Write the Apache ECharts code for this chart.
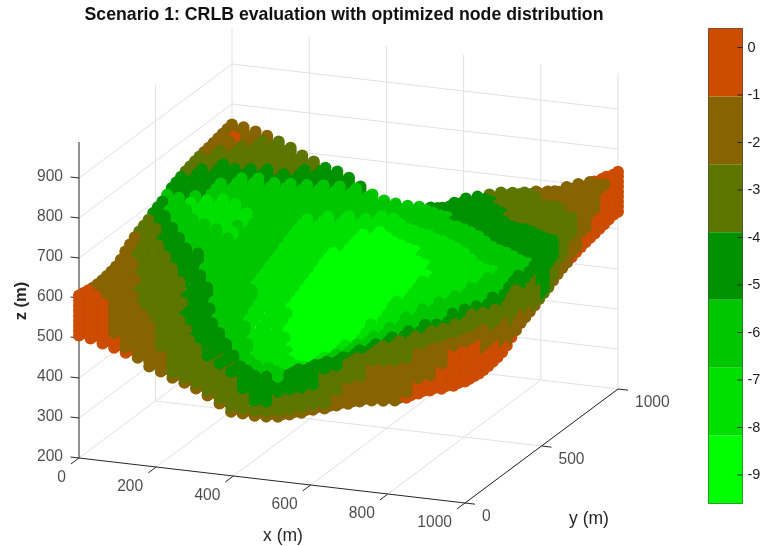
<!DOCTYPE html>
<html><head><meta charset="utf-8">
<style>html,body{margin:0;padding:0;background:#fff}#c{width:760px;height:546px}</style>
<script src="https://cdn.jsdelivr.net/npm/echarts@6/dist/echarts.min.js"></script>
</head><body><div id="c"></div>
<script>
const xValues=[0,30,61,91,121,152,182,212,242,273,303,333,364,394,424,455,485,515,545,576,606,636,667,697,727,758,788,818,848,879,909,939,970,1000];
const yValues=[0,30,61,91,121,152,182,212,242,273,303,333,364,394,424,455,485,515,545,576,606,636,667,697,727,758,788,818,848,879,909,939,970,1000];
const zRows=[
[606,602,593,586,577,568,549,540,528,519,508,494,477,460,459,457,458,461,470,478,489,495,506,514,523,529,532,536,546,560,571,579,590,604],
[604,600,591,584,575,566,547,538,526,517,506,492,475,458,457,455,456,459,468,476,487,493,504,512,521,527,530,534,544,558,569,577,588,602],
[602,598,589,582,573,564,545,536,524,515,504,490,473,456,455,453,454,457,466,474,485,491,502,510,519,525,528,532,542,556,567,575,586,600],
[600,596,587,580,571,562,543,534,522,513,502,488,471,454,453,451,452,455,464,472,483,489,500,508,517,523,526,530,540,554,565,573,584,598],
[600,596,587,580,571,562,543,534,522,513,502,488,471,454,453,451,452,455,464,472,483,489,500,508,517,523,526,530,540,554,565,573,584,598],
[601,597,588,581,572,563,544,535,523,514,503,489,472,455,454,452,453,456,465,473,484,490,501,509,518,524,527,531,541,555,566,574,585,599],
[603,599,590,583,574,565,546,537,525,516,505,491,474,457,456,454,455,458,467,475,486,492,503,511,520,526,529,533,543,557,568,576,587,601],
[606,602,593,586,577,568,549,540,528,519,508,494,477,460,459,457,458,461,470,478,489,495,506,514,523,529,532,536,546,560,571,579,590,604],
[610,606,597,590,581,572,553,544,532,523,512,498,481,464,463,461,462,465,474,482,493,499,510,518,527,533,536,540,550,564,575,583,594,608],
[618,614,605,598,589,580,561,552,540,531,520,506,489,472,471,469,470,473,482,490,501,507,518,526,535,541,544,548,558,572,583,591,602,616],
[630,626,617,610,601,592,573,564,552,543,532,518,501,484,483,481,482,485,494,502,513,519,530,538,547,553,556,560,570,584,595,603,614,628],
[639,635,626,619,610,601,582,573,561,552,541,527,510,493,492,490,491,494,503,511,522,528,539,547,556,562,565,569,579,593,604,612,623,637],
[648,644,635,628,619,610,591,582,570,561,550,536,519,502,501,499,500,503,512,520,531,537,548,556,565,571,574,578,588,602,613,621,632,646],
[654,650,641,634,625,616,597,588,576,567,556,542,525,508,507,505,506,509,518,526,537,543,554,562,571,577,580,584,594,608,619,627,638,652],
[660,656,647,640,631,622,603,594,582,573,562,548,531,514,513,511,512,515,524,532,543,549,560,568,577,583,586,590,600,614,625,633,644,658],
[666,662,653,646,637,628,609,600,588,579,568,554,537,520,519,517,518,521,530,538,549,555,566,574,583,589,592,596,606,620,631,639,650,664],
[674,670,661,654,645,636,617,608,596,587,576,562,545,528,527,525,526,529,538,546,557,563,574,582,591,597,600,604,614,628,639,647,658,672],
[680,676,667,660,651,642,623,614,602,593,582,568,551,534,533,531,532,535,544,552,563,569,580,588,597,603,606,610,620,634,645,653,664,678],
[686,682,673,666,657,648,629,620,608,599,588,574,557,540,539,537,538,541,550,558,569,575,586,594,603,609,612,616,626,640,651,659,670,684],
[694,690,681,674,665,656,637,628,616,607,596,582,565,548,547,545,546,549,558,566,577,583,594,602,611,617,620,624,634,648,659,667,678,692],
[702,698,689,682,673,664,645,636,624,615,604,590,573,556,555,553,554,557,566,574,585,591,602,610,619,625,628,632,642,656,667,675,686,700],
[708,704,695,688,679,670,651,642,630,621,610,596,579,562,561,559,560,563,572,580,591,597,608,616,625,631,634,638,648,662,673,681,692,706],
[713,709,700,693,684,675,656,647,635,626,615,601,584,567,566,564,565,568,577,585,596,602,613,621,630,636,639,643,653,667,678,686,697,711],
[718,714,705,698,689,680,661,652,640,631,620,606,589,572,571,569,570,573,582,590,601,607,618,626,635,641,644,648,658,672,683,691,702,716],
[722,718,709,702,693,684,665,656,644,635,624,610,593,576,575,573,574,577,586,594,605,611,622,630,639,645,648,652,662,676,687,695,706,720],
[726,722,713,706,697,688,669,660,648,639,628,614,597,580,579,577,578,581,590,598,609,615,626,634,643,649,652,656,666,680,691,699,710,724],
[729,725,716,709,700,691,672,663,651,642,631,617,600,583,582,580,581,584,593,601,612,618,629,637,646,652,655,659,669,683,694,702,713,727],
[732,728,719,712,703,694,675,666,654,645,634,620,603,586,585,583,584,587,596,604,615,621,632,640,649,655,658,662,672,686,697,705,716,730],
[734,730,721,714,705,696,677,668,656,647,636,622,605,588,587,585,586,589,598,606,617,623,634,642,651,657,660,664,674,688,699,707,718,732],
[737,733,724,717,708,699,680,671,659,650,639,625,608,591,590,588,589,592,601,609,620,626,637,645,654,660,663,667,677,691,702,710,721,735],
[740,736,727,720,711,702,683,674,662,653,642,628,611,594,593,591,592,595,604,612,623,629,640,648,657,663,666,670,680,694,705,713,724,738],
[743,739,730,723,714,705,686,677,665,656,645,631,614,597,596,594,595,598,607,615,626,632,643,651,660,666,669,673,683,697,708,716,727,741],
[746,742,733,726,717,708,689,680,668,659,648,634,617,600,599,597,598,601,610,618,629,635,646,654,663,669,672,676,686,700,711,719,730,744],
[749,745,738,731,720,708,692,680,668,662,650,631,615,603,599,597,598,599,602,618,632,640,649,657,660,664,670,673,676,687,696,712,727,743]
];
const levelRows=[
"0001111222233333343333322222211111",
"0011112222333334443333322222221111",
"0111122223333344453333322222222111",
"1111222223333444555333332222222211",
"1111222233334455556543332222222221",
"1112222333344555566544332222222222",
"1112222333444555666654433222222222",
"1112222334445555666654443322222222",
"1122223334445556666665444332222222",
"1122223344455556666665544433332222",
"1222233344455566666665554444333332",
"1222333444455566666666555444444332",
"1223334444455566666666555544444433",
"2233334444555666666666555554444433",
"2233444444555666666666655555444433",
"2334444444555666666666655555544443",
"3344444444555666666666655555554443",
"3444444444555666666666665555544433",
"3445555444555666666666655555444333",
"4455554444555666666666655554443333",
"3345555444555666666666555544433332",
"3334555444555666666665555444333322",
"3334444444555666666665554443333222",
"2334444444555566666655544433332222",
"2333444444555566666555444333322221",
"2233444444455566665554443333222211",
"2233344444455566655544433332222211",
"1222334444445556555444333322222111",
"1222233444445555554443333322221111",
"1122223344444555544443333222211111",
"1122222334444455444433332222111111",
"1012222333444444444333332222111110",
"1112222233344444443333322221111100",
"1111222233334444433333222211111000"
];
const faceDrops=[100,87,75,62,50,37,25,12];
const faceBand=[0,1,1,2,2,3,3,3];
const underDrops=[24,16,8];
const frontRowsWithFace=[0,1,2];
const rightColsWithFace=[31,32,33];
const frontFaceLevels=[
"0000011111111111111111111111000000",
"0000111122222222222222111111100000",
"0001111122222223322222211111111000",
"0001111222222233333332222111111100"
];
const rightFaceLevels=[
"0000000000011111222111100000000000",
"0000000001111122332211111000000000",
"0000000111112222332222111110000000",
"0111111112222223333322221111100000"
];
const levelColors=["#CC4C00","#886400","#5C7600","#009100","#00C600","#00E000","#00FF00"];
const xTicks=[0,200,400,600,800,1000];
const yTicks=[0,500,1000];
const zTicks=[200,300,400,500,600,700,800,900];
const zTop=990;
const barEdges=[0.4,-1.03,-2.46,-3.89,-5.31,-6.74,-8.17,-9.6];
const barTicks=[-9,-8,-7,-6,-5,-4,-3,-2,-1,0];

const px=(x,y)=>79+0.386*x+0.153*y;
const py=(x,y,z)=>458+0.045*x-0.114*y-0.4*(z-200);
const P=(x,y,z)=>[px(x,y),py(x,y,z)];

const dots=[];
for(let j=33;j>=0;j--){
  for(let i=0;i<=33;i++){
    const x=xValues[i],y=yValues[j],z=zRows[j][i],lv=+levelRows[j][i];
    if(frontRowsWithFace.includes(j)) faceDrops.forEach((d,k)=>dots.push([...P(x,y,z-d),+frontFaceLevels[faceBand[k]][i]]));
    else if(rightColsWithFace.includes(i)) faceDrops.forEach((d,k)=>dots.push([...P(x,y,z-d),+rightFaceLevels[faceBand[k]][j]]));
    else underDrops.forEach(d=>dots.push([...P(x,y,z-d),lv]));
    dots.push([...P(x,y,z),lv]);
  }
}
const seg=(arr,a,b)=>{arr.push(a,b,[0,'-']);};
const grid3d=[];
xTicks.slice(1).forEach(x=>{seg(grid3d,P(x,0,200),P(x,1000,200));seg(grid3d,P(x,1000,200),P(x,1000,zTop));});
yTicks.slice(1).forEach(y=>{seg(grid3d,P(0,y,200),P(1000,y,200));seg(grid3d,P(0,y,200),P(0,y,zTop));});
seg(grid3d,P(0,0,200),P(0,1000,200));
zTicks.slice(1).forEach(z=>{seg(grid3d,P(0,0,z),P(0,1000,z));seg(grid3d,P(0,1000,z),P(1000,1000,z));});
const axes3d=[];
seg(axes3d,P(0,0,200),P(0,0,zTop));
seg(axes3d,P(0,0,200),P(1000,0,200));
seg(axes3d,P(1000,0,200),P(1000,1000,200));
xTicks.forEach(x=>seg(axes3d,P(x,0,200),P(x,-52,200)));
yTicks.forEach(y=>seg(axes3d,P(1000,y,200),P(1026,y,200)));
zTicks.forEach(z=>seg(axes3d,P(0,0,z),P(-22,0,z)));
const barTickSegs=[];
barTicks.forEach(t=>seg(barTickSegs,[0.85,t],[1,t]));

const textStyleCommon={color:'#1e1e1e',fontFamily:'Liberation Sans',fontSize:15.6};
const tickLabels=(name,data,align,offset)=>({
  type:'scatter',name,symbolSize:0,silent:true,animation:false,z:6,
  data,
  label:{show:true,position:'inside',align,verticalAlign:'middle',offset,
    formatter:p=>p.value[2],...textStyleCommon}
});

const chart=echarts.init(document.getElementById('c'),null,{renderer:'canvas'});
chart.setOption({
  animation:false,backgroundColor:'#fff',
  title:{text:'Scenario 1: CRLB evaluation with optimized node distribution',left:339,top:1,textAlign:'center',
    textStyle:{fontFamily:'Liberation Sans',fontWeight:'bold',fontSize:17.7,color:'#111'}},
  grid:[{left:0,top:0,width:760,height:546,show:false,outerBoundsMode:'none'},
        {left:708.5,top:28.5,width:34,height:475,show:true,borderColor:'#444',borderWidth:1,backgroundColor:'transparent',outerBoundsMode:'none'}],
  xAxis:[{type:'value',min:0,max:760,show:false,gridIndex:0},
         {type:'value',min:0,max:1,show:false,gridIndex:1}],
  yAxis:[{type:'value',min:0,max:546,inverse:true,show:false,gridIndex:0},
         {type:'value',min:-9.6,max:0.4,gridIndex:1,position:'right',
          axisLine:{show:false},
          axisTick:{show:false},
          axisLabel:{show:true,customValues:barTicks,margin:5,...textStyleCommon,fontSize:14.5,formatter:v=>String(v)},
          splitLine:{show:false}}],
  series:[
    {type:'line',data:grid3d,showSymbol:false,silent:true,z:1,connectNulls:false,lineStyle:{color:'#e1e1e1',width:1}},
    {type:'line',data:axes3d,showSymbol:false,silent:true,z:2,connectNulls:false,lineStyle:{color:'#262626',width:1}},
    {type:'scatter',data:dots,symbol:'circle',symbolSize:12,silent:true,z:3,progressive:0,large:false,
     itemStyle:{opacity:1,color:p=>levelColors[p.value[2]]}},
    tickLabels('x ticks',xTicks.map(x=>[...P(x,0,200),String(x)]),'right',[-13,20]),
    tickLabels('y ticks',yTicks.map(y=>[...P(1000,y,200),String(y)]),'left',[17,13.5]),
    tickLabels('z ticks',zTicks.map(z=>[...P(0,0,z),String(z)]),'right',[-16,-1]),
    {type:'custom',xAxisIndex:1,yAxisIndex:1,z:3,silent:true,
     data:barEdges.slice(0,-1).map((e,k)=>[e,barEdges[k+1],k]),
     renderItem:(params,api)=>{
       const a=api.coord([0,api.value(0)]),b=api.coord([1,api.value(1)]);
       return {type:'rect',shape:{x:a[0],y:a[1],width:b[0]-a[0],height:b[1]-a[1]},style:{fill:levelColors[api.value(2)]}};
     }},
    {type:'line',xAxisIndex:1,yAxisIndex:1,data:barTickSegs,showSymbol:false,silent:true,z:5,connectNulls:false,lineStyle:{color:'#262626',width:1}}
  ],
  graphic:[
    {type:'text',x:283,y:536,style:{text:'x (m)',align:'center',verticalAlign:'middle',fill:'#262626',font:'17.5px "Liberation Sans"'}},
    {type:'text',x:589,y:519,style:{text:'y (m)',align:'center',verticalAlign:'middle',fill:'#262626',font:'17.5px "Liberation Sans"'}},
    {type:'text',x:21,y:301,rotation:Math.PI/2,style:{text:'z (m)',align:'center',verticalAlign:'middle',fill:'#262626',font:'bold 16.5px "Liberation Sans"'}}
  ]
});
</script></body></html>
